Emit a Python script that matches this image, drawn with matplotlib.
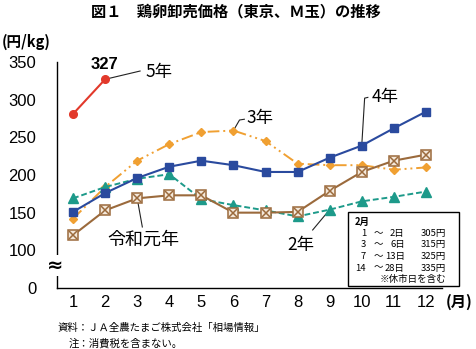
import numpy as np
import matplotlib
matplotlib.use('Agg')
import matplotlib.pyplot as plt

plt.rcParams['font.family'] = ['Noto Sans CJK JP', 'DejaVu Sans']

months = list(range(1, 13))
month_labels = [str(m) for m in months]
ytick_vals = [50, 100, 150, 200, 250, 300, 350]
ytick_labels = ['0', '100', '150', '200', '250', '300', '350']

r5 = [281, 327]
r4 = [151, 176, 196, 211, 219, 213, 204, 204, 223, 239, 262, 284]
r3 = [142, 184, 219, 241, 257, 259, 245, 215, 213, 213, 207, 210]
r2 = [169, 184, 195, 201, 168, 160, 153, 145, 154, 165, 171, 178]
r1 = [120, 153, 169, 173, 173, 150, 150, 151, 179, 204, 219, 227]

box_rows = [('1', '2日', '305円'), ('3', '6日', '315円'),
            ('7', '13日', '325円'), ('14', '28日', '335円')]

c_red = '#e2392b'
c_blue = '#2a4a9e'
c_orange = '#f0a032'
c_teal = '#1d9a8a'
c_brown = '#9b6a3c'

fig = plt.figure(figsize=(4.77, 3.49), dpi=100)
ax = fig.add_axes([0.1195, 0.1748, 0.807, 0.6476])

ax.plot(months[:2], r5, color=c_red, lw=1.5, marker='o', ms=5.5, zorder=5)
ax.plot(months, r4, color=c_blue, lw=1.5, marker='s', ms=5.5, zorder=4)
ax.plot(months, r3, color=c_orange, lw=1.4, ls=(0, (6, 2, 1, 2, 1, 2)), marker='D', ms=3.8, zorder=3)
ax.plot(months, r2, color=c_teal, lw=1.4, ls=(0, (3, 1.5)), marker='^', ms=6.5, zorder=3)
ax.plot(months, r1, color=c_brown, lw=1.5, marker='s', ms=6.5, mfc='#f4e8da', mec=c_brown, mew=1.1, zorder=4)
ax.plot(months, r1, ls='none', marker='x', ms=5.5, mec=c_brown, mew=1.1, zorder=4)

ax.set_xlim(0.5, 12.5)
ax.set_ylim(50, 350)
ax.set_xticks(months)
ax.set_xticklabels(month_labels)
ax.set_yticks(ytick_vals)
ax.set_yticklabels(ytick_labels)
ax.tick_params(length=0, labelsize=12)
ax.tick_params(axis='y', pad=15)
ax.tick_params(axis='x', pad=5)
for lab in ax.get_xticklabels() + ax.get_yticklabels():
    lab.set_family(['Liberation Sans', 'DejaVu Sans'])
for s in ['top', 'right']:
    ax.spines[s].set_visible(False)
ax.spines['left'].set_linewidth(1.0)
ax.spines['bottom'].set_linewidth(1.0)

# broken axis mark
ax.text(0.45, 80, '≈', ha='center', va='center', fontsize=14, fontweight='bold',
        family=['DejaVu Sans'], clip_on=False,
        bbox=dict(facecolor='white', edgecolor='none', pad=0.5), zorder=10)

# labels and leaders
lk = dict(color='#222222', lw=0.8)
ax.text(1.97, 347, '327', ha='center', va='center', fontsize=12, fontweight='bold',
        family=['Liberation Sans'], clip_on=False)
ax.plot([2, 3.09], [327, 338], **lk)
ax.text(3.25, 337, '5年', ha='left', va='center', fontsize=12.5)

ax.plot([6, 6.19, 6.34], [259, 273, 274], **lk)
ax.text(6.4, 275, '3年', ha='left', va='center', fontsize=12.5)

ax.plot([10, 10.09, 10.19], [239, 302, 303], **lk)
ax.text(10.3, 303, '4年', ha='left', va='center', fontsize=12.5)

ax.plot([3, 3.16], [169, 131], **lk)
ax.text(3.19, 114, '令和元年', ha='center', va='center', fontsize=13)

ax.plot([9, 8.47], [154, 127], **lk)
ax.text(8.09, 107, '2年', ha='center', va='center', fontsize=12.5)

# price box
bx0, by0, bw, bh = 0.7296, 0.1805, 0.232, 0.212
fig.patches.append(plt.Rectangle((bx0, by0), bw, bh, transform=fig.transFigure,
                                 fill=True, facecolor='white', edgecolor='black', lw=1.0, zorder=20))
fs_box = 6.8
fig.text(bx0 + 0.014, 0.364, '2月', fontsize=fs_box, fontweight='bold', va='center', zorder=21)
for i, (d0, d1, p) in enumerate(box_rows):
    yy = 0.331 - i * 0.033
    fig.text(bx0 + 0.038, yy, d0, fontsize=fs_box, ha='right', va='center', zorder=21)
    fig.text(bx0 + 0.063, yy, '～', fontsize=fs_box, ha='center', va='center', zorder=21)
    fig.text(bx0 + 0.119, yy, d1, fontsize=fs_box, ha='right', va='center', zorder=21)
    fig.text(bx0 + 0.206, yy, p, fontsize=fs_box, ha='right', va='center', zorder=21)
fig.text(bx0 + 0.206, 0.198, '※休市日を含む', fontsize=fs_box, ha='right', va='center', zorder=21)

fig.text(0.495, 0.966, '図１　鶏卵卸売価格（東京、Ｍ玉）の推移', ha='center', va='center',
         fontsize=11, fontweight='bold')
fig.text(0.055, 0.88, '(円/kg)', ha='center', va='center', fontsize=10.5, fontweight='bold')
fig.text(0.962, 0.135, '(月)', ha='center', va='center', fontsize=11, fontweight='bold')
fig.text(0.1216, 0.06, '資料：ＪＡ全農たまご株式会社「相場情報」', ha='left', va='center', fontsize=7.5)
fig.text(0.143, 0.017, '注：消費税を含まない。', ha='left', va='center', fontsize=7.5)

fig.savefig('out.png', dpi=100, facecolor='white')
